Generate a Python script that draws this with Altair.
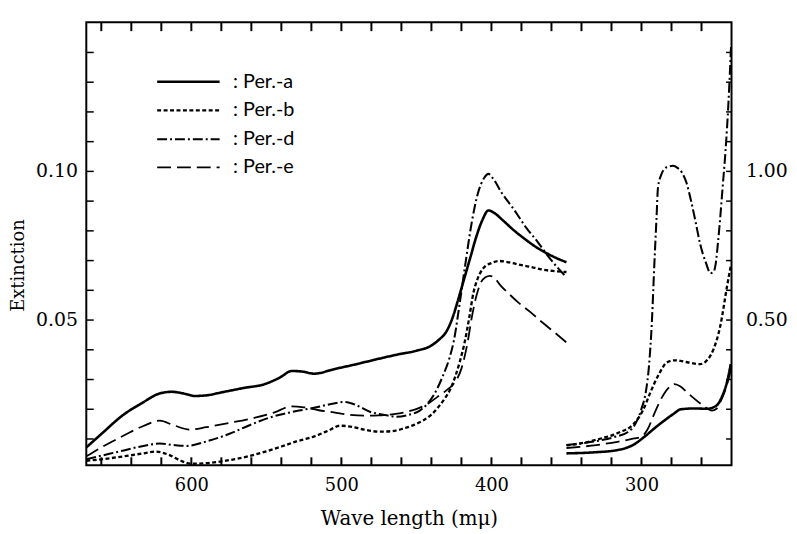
import altair as alt
import pandas as pd

SERIF = "DejaVu Serif"
series_names = ["Per.-a", "Per.-b", "Per.-d", "Per.-e"]

# ---- visible range (left axis, Extinction) ----
a_wl = [670, 660, 646, 632, 622, 613, 604, 598, 590, 580, 565, 551, 541, 533, 526, 518, 505, 490, 476, 462, 450, 441, 435, 430, 426, 422, 418, 414, 410, 406, 402, 398, 392, 385, 378, 370, 362, 355, 350]
a_val = [.0070, .0115, .0177, .0222, .0250, .0257, .0250, .0243, .0245, .0255, .0270, .0283, .0305, .0327, .0325, .0318, .0333, .0350, .0367, .0383, .0395, .0410, .0432, .0460, .0505, .0570, .0640, .0710, .0780, .0835, .0867, .0858, .0832, .0800, .0772, .0743, .0720, .0703, .0693]

b_wl = [670, 660, 645, 632, 624, 615, 607, 600, 590, 575, 562, 550, 540, 530, 518, 508, 501, 494, 485, 475, 466, 459, 452, 445, 440, 435, 431, 427, 424, 421, 418, 415, 412, 409, 405, 400, 395, 388, 380, 372, 365, 358, 350]
b_val = [.0025, .0030, .0040, .0050, .0056, .0045, .0025, .0015, .0017, .0027, .0040, .0057, .0073, .0090, .0107, .0128, .0143, .0140, .0130, .0123, .0125, .0133, .0145, .0162, .0180, .0208, .0235, .0270, .0310, .0360, .0420, .0500, .0590, .0640, .0675, .0690, .0697, .0692, .0683, .0675, .0667, .0663, .0660]

d_wl = [670, 660, 645, 632, 621, 612, 603, 590, 575, 562, 548, 535, 525, 515, 505, 498, 490, 481, 472, 463, 455, 448, 443, 438, 432, 428, 425, 421, 417, 413, 409, 405, 402, 399, 393, 385, 377, 369, 362, 356, 350]
d_val = [.0030, .0042, .0060, .0075, .0083, .0078, .0075, .0090, .0115, .0143, .0170, .0187, .0197, .0207, .0218, .0223, .0212, .0190, .0180, .0173, .0180, .0193, .0215, .0250, .0315, .0370, .0430, .0560, .0700, .0830, .0925, .0975, .0990, .0975, .0925, .0870, .0810, .0760, .0712, .0675, .0643]

e_wl = [670, 660, 645, 632, 621, 612, 601, 590, 575, 560, 545, 533, 525, 515, 505, 495, 485, 475, 465, 456, 448, 442, 436, 430, 425, 420, 416, 413, 410, 407, 404, 401, 398, 394, 388, 382, 374, 366, 358, 350]
e_val = [.0040, .0070, .0110, .0142, .0160, .0145, .0130, .0138, .0152, .0167, .0187, .0208, .0205, .0195, .0188, .0180, .0177, .0178, .0182, .0190, .0203, .0218, .0240, .0262, .0285, .0335, .0420, .0510, .0580, .0625, .0642, .0647, .0640, .0615, .0585, .0557, .0525, .0490, .0457, .0423]

# ---- ultraviolet range (values as read on the right axis) ----
ar_wl = [350, 330, 316, 305, 298, 290, 283, 278, 274, 265, 256, 250, 246, 243, 240.5]
ar_val = [0.050, 0.054, 0.061, 0.080, 0.106, 0.140, 0.167, 0.185, 0.198, 0.201, 0.200, 0.211, 0.245, 0.290, 0.350]

br_wl = [350, 338, 327, 315, 305, 299, 294, 288, 283, 278, 274, 267, 261, 256, 252, 247.5, 243, 240.5]
br_val = [0.077, 0.086, 0.100, 0.120, 0.150, 0.195, 0.256, 0.320, 0.356, 0.363, 0.361, 0.354, 0.350, 0.365, 0.400, 0.478, 0.611, 0.680]

dr_wl = [350, 338, 327, 318, 309, 304, 300, 297, 295, 293, 291.5, 290, 289, 287, 285, 282, 279, 276, 273, 270, 267, 264, 261, 257, 254, 252, 250.5, 249, 247.5, 246, 244, 242, 240.3]
dr_val = [0.078, 0.085, 0.094, 0.105, 0.122, 0.150, 0.200, 0.260, 0.344, 0.500, 0.678, 0.840, 0.944, 0.985, 1.005, 1.015, 1.017, 1.010, 0.994, 0.960, 0.900, 0.830, 0.756, 0.690, 0.656, 0.660, 0.689, 0.760, 0.844, 0.940, 1.067, 1.233, 1.420]

er_wl = [350, 330, 316, 305, 300, 296, 291, 285, 281, 278, 274, 270, 265, 259, 253, 250, 247.5, 244, 240.5]
er_val = [0.068, 0.078, 0.089, 0.100, 0.106, 0.130, 0.189, 0.250, 0.275, 0.283, 0.275, 0.257, 0.235, 0.211, 0.194, 0.200, 0.222, 0.265, 0.330]

# axis values
x_label_vals = [600, 500, 400, 300]
x_tick_vals = [660, 640, 620, 600, 580, 560, 540, 520, 500, 480, 460, 440, 420, 400, 380, 360, 340, 320, 300, 280, 260]
y_label_vals = [0.05, 0.10]
y_tick_vals = [0.01, 0.02, 0.03, 0.04, 0.05, 0.06, 0.07, 0.08, 0.09, 0.10, 0.11, 0.12, 0.13, 0.14]
right_factor = 10  # right axis reads ten times the left axis


def long_frame(wls, vals):
    rows = []
    for name, wl, val in zip(series_names, wls, vals):
        for w, v in zip(wl, val):
            rows.append({"wl": w, "val": v, "series": name})
    return pd.DataFrame(rows)


left_df = long_frame([a_wl, b_wl, d_wl, e_wl], [a_val, b_val, d_val, e_val])
right_df = long_frame([ar_wl, br_wl, dr_wl, er_wl], [ar_val, br_val, dr_val, er_val])
xtick_df = pd.DataFrame({"wl": x_tick_vals})

W, H = 651, 447
x_scale = alt.Scale(domain=[240, 670], reverse=True, nice=False, zero=False)
y_scale = alt.Scale(domain=[0.001, 0.15], nice=False, zero=False)

dash_scale = alt.Scale(domain=series_names, range=[[1, 0], [4, 2.5], [10, 3, 2, 3], [14, 6]])
width_scale = alt.Scale(domain=series_names, range=[2.6, 1.8, 1.8, 2.2])

legend = alt.Legend(
    title=None, orient="none", legendX=70, legendY=48, direction="vertical",
    symbolType="M-1,0H5", symbolSize=441, symbolStrokeWidth=2, symbolStrokeColor="black",
    labelFont="Lato", labelFontSize=20, labelColor="black", labelOffset=54,
    rowPadding=7, padding=0, labelExpr="': ' + datum.label",
)

left_lines = alt.Chart(left_df).mark_line(interpolate="monotone", color="black").encode(
    x=alt.X("wl:Q", scale=x_scale, axis=alt.Axis(
        orient="bottom", values=x_label_vals, ticks=False, domain=False, grid=False,
        labelFont=SERIF, labelFontSize=18, labelPadding=11, labelColor="black",
        title="Wave length (mμ)", titleFont=SERIF, titleFontSize=20, titleFontWeight="normal",
        titleColor="black", titleY=44)),
    y=alt.Y("val:Q", scale=y_scale, axis=alt.Axis(
        orient="left", values=y_label_vals, format=".2f", ticks=False, domain=False, grid=False,
        labelFont=SERIF, labelFontSize=19, labelPadding=9, labelColor="black",
        title="Extinction", titleFont=SERIF, titleFontSize=18, titleFontWeight="normal",
        titleColor="black", titleX=-59, titleY=245)),
    strokeDash=alt.StrokeDash("series:N", scale=dash_scale, legend=legend),
    strokeWidth=alt.StrokeWidth("series:N", scale=width_scale, legend=None),
)

right_lines = alt.Chart(right_df).transform_calculate(
    val_left=f"datum.val / {right_factor}"
).mark_line(interpolate="monotone", color="black").encode(
    x=alt.X("wl:Q", scale=x_scale, axis=None),
    y=alt.Y("val_left:Q", scale=y_scale, axis=alt.Axis(
        orient="right", values=y_label_vals, ticks=False, domain=False, grid=False,
        labelExpr=f"format(datum.value * {right_factor}, '.2f')",
        labelFont=SERIF, labelFontSize=19, labelPadding=14, labelColor="black", title=None)),
    strokeDash=alt.StrokeDash("series:N", scale=dash_scale, legend=legend),
    strokeWidth=alt.StrokeWidth("series:N", scale=width_scale, legend=None),
)

# inward ticks on the left frame (right-oriented axis moved onto the left edge)
helper_left = alt.Chart(left_df).mark_point(opacity=0).encode(
    x=alt.X("wl:Q", scale=x_scale, axis=None),
    y=alt.Y("val:Q", scale=y_scale, axis=alt.Axis(
        orient="right", offset=-W, values=y_tick_vals, labels=False, domain=False, grid=False,
        ticks=True, tickSize=7, tickColor="black", tickWidth=1.5, title=None)),
)

# inward ticks on the right frame (left-oriented axis moved onto the right edge)
helper_right = alt.Chart(left_df).mark_point(opacity=0).encode(
    x=alt.X("wl:Q", scale=x_scale, axis=None),
    y=alt.Y("val:Q", scale=y_scale, axis=alt.Axis(
        orient="left", offset=-W, values=y_tick_vals, labels=False, domain=False, grid=False,
        ticks=True, tickSize=6, tickColor="black", tickWidth=1.5, title=None)),
)

# inward ticks on the top and bottom frame, at the x tick values
top_ticks = alt.Chart(xtick_df).mark_rule(color="black", strokeWidth=2).encode(
    x=alt.X("wl:Q", scale=x_scale, axis=None),
    y=alt.value(0), y2=alt.value(9),
)
bottom_ticks = alt.Chart(xtick_df).mark_rule(color="black", strokeWidth=2).encode(
    x=alt.X("wl:Q", scale=x_scale, axis=None),
    y=alt.value(H - 8), y2=alt.value(H),
)

chart = (
    alt.layer(left_lines, right_lines, helper_left, helper_right, top_ticks, bottom_ticks)
    .resolve_axis(x="independent", y="independent")
    .properties(
        width=W, height=H,
        padding={"left": 79, "top": 12, "right": 58, "bottom": 66},
        autosize=alt.AutoSizeParams(type="none"),
    )
    .configure_view(stroke="black", strokeWidth=2)
)

chart.save("out.html", embed_options={"renderer": "svg", "actions": False})
